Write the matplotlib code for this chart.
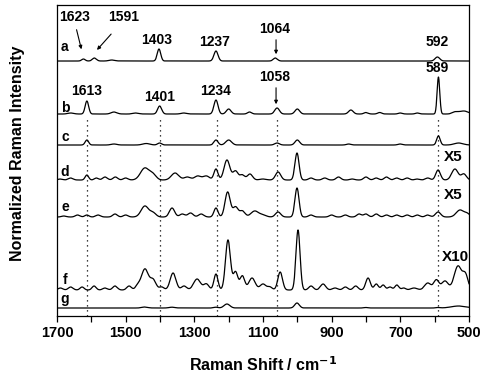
import numpy as np
import matplotlib.pyplot as plt

plt.rcParams['font.family'] = ['Liberation Sans', 'DejaVu Sans']
plt.rcParams['font.weight'] = 'bold'

# wavenumber grid (cm-1)
wn = np.linspace(500, 1700, 2401)

# peaks: position (cm-1), height, FWHM (cm-1)
a_pos = [1623, 1591, 1540, 1403, 1237, 1064, 592]
a_hgt = [2, 3, 1, 12, 10, 3, 4]
a_wid = [12, 14, 20, 12, 14, 14, 16]

b_pos = [1660, 1613, 1534, 1470, 1401, 1330, 1237, 1200, 1139, 1059, 1000, 844, 800, 760, 700, 650, 589, 540, 515]
b_hgt = [1, 13, 2, 1, 8, 1, 14, 5, 2, 6, 5, 4, 1.5, 1.5, 1, 1, 37, 2, 3]
b_wid = [20, 12, 20, 20, 14, 20, 14, 16, 14, 16, 16, 16, 14, 14, 14, 14, 9, 20, 30]

c_pos = [1613, 1534, 1440, 1401, 1237, 1200, 1059, 1000, 850, 700, 589, 530]
c_hgt = [5, 1, 1.5, 2, 5, 5, 2, 5, 1, 1, 9, 2]
c_wid = [12, 20, 25, 14, 14, 20, 16, 16, 16, 16, 12, 30]

d_pos = [1690, 1660, 1613, 1585, 1560, 1530, 1500, 1444, 1420, 1356, 1320, 1290, 1265, 1237, 1205, 1180, 1160, 1138,
         1100, 1056, 1001, 960, 920, 880, 840, 800, 770, 740, 710, 680, 650, 620, 590, 541, 515]
d_hgt = [1, 2, 5, 2, 3, 3, 2, 12, 5, 7, 3, 4, 4, 11, 20, 9, 5, 6,
         1, 8, 27, 2, 2, 3, 1, 3, 2, 3, 2, 2, 1, 2, 10, 11, 6]
d_wid = [16, 16, 12, 14, 16, 16, 16, 30, 22, 26, 22, 22, 22, 14, 20, 18, 16, 18,
         22, 18, 14, 16, 16, 16, 16, 16, 16, 16, 16, 16, 16, 16, 16, 22, 18]

e_pos = [1680, 1640, 1613, 1580, 1531, 1500, 1444, 1420, 1365, 1335, 1311, 1280, 1237, 1203, 1180, 1160, 1124,
         1100, 1056, 1001, 960, 900, 860, 820, 800, 770, 740, 710, 680, 650, 620, 590, 526, 505]
e_hgt = [1, 2, 2, 2, 3, 2, 11, 4, 9, 3, 4, 3, 9, 25, 10, 6, 6,
         2, 5, 29, 2, 2, 2, 3, 3, 3, 2, 2, 2, 2, 2, 5, 7, 3]
e_wid = [16, 16, 14, 16, 16, 16, 26, 20, 18, 18, 18, 18, 14, 18, 18, 18, 26,
         22, 18, 14, 16, 16, 16, 16, 16, 16, 16, 16, 16, 16, 16, 18, 26, 18]

f_pos = [1690, 1660, 1627, 1592, 1560, 1531, 1490, 1465, 1444, 1420, 1395, 1362, 1330, 1292, 1265, 1237, 1202, 1180,
         1160, 1132, 1100, 1080, 1050, 998, 960, 925, 890, 860, 830, 794, 770, 750, 730, 710, 690, 660, 620, 595, 570,
         532, 510]
f_hgt = [2, 3, 3, 4, 2, 4, 4, 4, 21, 10, 3, 17, 4, 11, 6, 16, 50, 18,
         14, 12, 6, 3, 18, 60, 4, 6, 2, 3, 4, 12, 6, 5, 3, 5, 2, 2, 7, 10, 9,
         24, 14]
f_wid = [16, 16, 14, 14, 16, 16, 16, 16, 24, 20, 16, 20, 18, 24, 18, 14, 17, 16,
         16, 22, 20, 16, 16, 14, 16, 18, 18, 16, 16, 16, 14, 14, 14, 14, 14, 22, 22, 18, 22,
         26, 18]

g_pos = [1444, 1365, 1237, 1205, 1001, 800, 590, 530]
g_hgt = [1, 0.8, 0.8, 4, 5, 0.5, 0.5, 2]
g_wid = [20, 20, 14, 20, 16, 14, 14, 50]

labels = ['a', 'b', 'c', 'd', 'e', 'f', 'g']
offsets = [255, 202, 171, 136, 99, 26, 8]
pos_list = [a_pos, b_pos, c_pos, d_pos, e_pos, f_pos, g_pos]
hgt_list = [a_hgt, b_hgt, c_hgt, d_hgt, e_hgt, f_hgt, g_hgt]
wid_list = [a_wid, b_wid, c_wid, d_wid, e_wid, f_wid, g_wid]
label_y = [269, 208, 179, 144, 109, 36, 17]

marked = [1613, 1401, 1234, 1058, 589]


def spectrum(pos, hgt, wid):
    y = np.zeros_like(wn)
    for p, h, w in zip(pos, hgt, wid):
        s = w / 2.355
        y += h * np.exp(-0.5 * ((wn - p) / s) ** 2)
    return y


fig = plt.figure(figsize=(4.84, 3.77), dpi=100)
ax = fig.add_axes([0.1178, 0.1618, 0.8512, 0.8249])

for lab, off, p, h, w, ly in zip(labels, offsets, pos_list, hgt_list, wid_list, label_y):
    ax.plot(wn, off + spectrum(p, h, w), color='black', lw=0.9)
    ax.text(1677, ly, lab, ha='center', va='center', fontsize=10, fontweight='bold')

for m in marked:
    ax.plot([m, m], [0, 200], color='black', lw=0.9, ls=(0, (1, 3)))

fs = 10
arrow = dict(arrowstyle='-|>', color='black', lw=0.8, mutation_scale=5)

# peak labels for a
ax.text(1648, 299, '1623', ha='center', va='center', fontsize=fs)
ax.text(1505, 299, '1591', ha='center', va='center', fontsize=fs)
ax.annotate('', xy=(1627, 264), xytext=(1645, 289), arrowprops=arrow)
ax.annotate('', xy=(1589, 264), xytext=(1537, 284), arrowprops=arrow)
ax.text(1409, 276, '1403', ha='center', va='center', fontsize=fs)
ax.text(1240, 274, '1237', ha='center', va='center', fontsize=fs)
ax.text(1065, 287, '1064', ha='center', va='center', fontsize=fs)
ax.annotate('', xy=(1062, 259), xytext=(1062, 279), arrowprops=arrow)
ax.text(593, 274, '592', ha='center', va='center', fontsize=fs)

# peak labels for b
ax.text(1613, 225, '1613', ha='center', va='center', fontsize=fs)
ax.text(1400, 219, '1401', ha='center', va='center', fontsize=fs)
ax.text(1237, 225, '1234', ha='center', va='center', fontsize=fs)
ax.text(1065, 239, '1058', ha='center', va='center', fontsize=fs)
ax.annotate('', xy=(1062, 209), xytext=(1062, 231), arrowprops=arrow)
ax.text(593, 248, '589', ha='center', va='center', fontsize=fs)

# scale factors
ax.text(547, 159, 'X5', ha='center', va='center', fontsize=11)
ax.text(547, 121, 'X5', ha='center', va='center', fontsize=11)
ax.text(540, 59, 'X10', ha='center', va='center', fontsize=11)

ax.set_xlim(1700, 500)
ax.set_ylim(0, 311)
ax.set_xticks(np.arange(500, 1701, 100))
ax.set_xticklabels([str(t) if (t - 500) % 200 == 0 else '' for t in range(500, 1701, 100)])
ax.set_yticks([])
ax.tick_params(axis='x', direction='out', length=4, width=0.9, labelsize=10.5, pad=3)
for sp in ax.spines.values():
    sp.set_linewidth(0.9)

ax.set_xlabel('Raman Shift / cm$^{\\mathbf{-1}}$', fontsize=11.5, fontweight='bold', labelpad=11)
ax.set_ylabel('Normalized Raman Intensity', fontsize=11.5, fontweight='bold')
ax.yaxis.set_label_coords(-0.078, 0.522)

fig.savefig('out.png', dpi=100)
